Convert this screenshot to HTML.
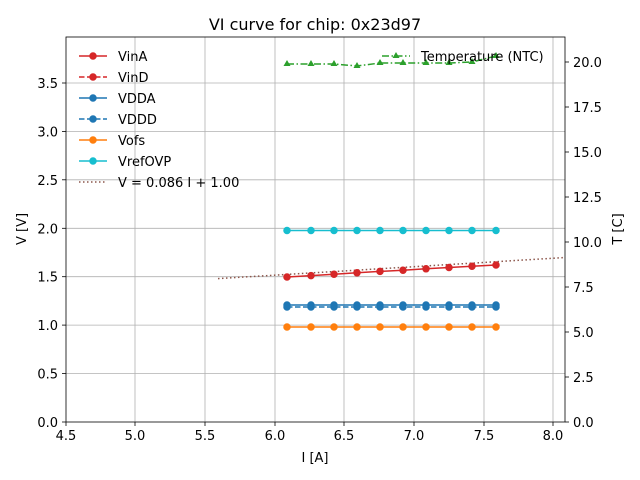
<!DOCTYPE html>
<html><head><meta charset="utf-8"><style>body{margin:0;background:#fff}svg{display:block}text{font-family:"DejaVu Sans","Liberation Sans",sans-serif;font-size:13px;fill:#000}</style></head><body>
<svg width="640" height="480" xmlns="http://www.w3.org/2000/svg">
<rect width="640" height="480" fill="#fff"/>
<g stroke="#b0b0b0" stroke-width="0.8">
<line x1="135" y1="37" x2="135" y2="422"/><line x1="205" y1="37" x2="205" y2="422"/><line x1="275" y1="37" x2="275" y2="422"/><line x1="344" y1="37" x2="344" y2="422"/><line x1="414" y1="37" x2="414" y2="422"/><line x1="484" y1="37" x2="484" y2="422"/><line x1="553" y1="37" x2="553" y2="422"/>
<line x1="66" y1="373.6" x2="565" y2="373.6"/><line x1="66" y1="325.1" x2="565" y2="325.1"/><line x1="66" y1="276.7" x2="565" y2="276.7"/><line x1="66" y1="228.3" x2="565" y2="228.3"/><line x1="66" y1="179.8" x2="565" y2="179.8"/><line x1="66" y1="131.4" x2="565" y2="131.4"/><line x1="66" y1="83" x2="565" y2="83"/>
</g>
<polyline points="218,278.6 565,257.5" fill="none" stroke="#8c564b" stroke-width="1.5" stroke-dasharray="1.5,2.5"/>
<g stroke="#17becf" fill="#17becf" stroke-width="1.5"><polyline fill="none" points="287,230.5 496,230.5"/>
<circle cx="287" cy="230.5" r="3"/><circle cx="311" cy="230.5" r="3"/><circle cx="334" cy="230.5" r="3"/><circle cx="357" cy="230.5" r="3"/><circle cx="380" cy="230.5" r="3"/><circle cx="403" cy="230.5" r="3"/><circle cx="426" cy="230.5" r="3"/><circle cx="449" cy="230.5" r="3"/><circle cx="472" cy="230.5" r="3"/><circle cx="496" cy="230.5" r="3"/></g>
<g stroke="#d62728" fill="#d62728" stroke-width="1.5"><polyline fill="none" points="287,277 311,275.6 334,274.2 357,272.8 380,271.4 403,270.2 426,268.8 449,267.5 472,266.2 496,265"/>
<circle cx="287" cy="277" r="3"/><circle cx="311" cy="275.6" r="3"/><circle cx="334" cy="274.2" r="3"/><circle cx="357" cy="272.8" r="3"/><circle cx="380" cy="271.4" r="3"/><circle cx="403" cy="270.2" r="3"/><circle cx="426" cy="268.8" r="3"/><circle cx="449" cy="267.5" r="3"/><circle cx="472" cy="266.2" r="3"/><circle cx="496" cy="265" r="3"/></g>
<g stroke="#1f77b4" fill="#1f77b4" stroke-width="1.5"><polyline fill="none" points="287,305 496,305"/><polyline fill="none" stroke-dasharray="5.5,2.5" points="287,307 496,307"/>
<circle cx="287" cy="305" r="3"/><circle cx="311" cy="305" r="3"/><circle cx="334" cy="305" r="3"/><circle cx="357" cy="305" r="3"/><circle cx="380" cy="305" r="3"/><circle cx="403" cy="305" r="3"/><circle cx="426" cy="305" r="3"/><circle cx="449" cy="305" r="3"/><circle cx="472" cy="305" r="3"/><circle cx="496" cy="305" r="3"/>
<circle cx="287" cy="307" r="3"/><circle cx="311" cy="307" r="3"/><circle cx="334" cy="307" r="3"/><circle cx="357" cy="307" r="3"/><circle cx="380" cy="307" r="3"/><circle cx="403" cy="307" r="3"/><circle cx="426" cy="307" r="3"/><circle cx="449" cy="307" r="3"/><circle cx="472" cy="307" r="3"/><circle cx="496" cy="307" r="3"/></g>
<g stroke="#ff7f0e" fill="#ff7f0e" stroke-width="1.5"><polyline fill="none" points="287,327 496,327"/>
<circle cx="287" cy="327" r="3"/><circle cx="311" cy="327" r="3"/><circle cx="334" cy="327" r="3"/><circle cx="357" cy="327" r="3"/><circle cx="380" cy="327" r="3"/><circle cx="403" cy="327" r="3"/><circle cx="426" cy="327" r="3"/><circle cx="449" cy="327" r="3"/><circle cx="472" cy="327" r="3"/><circle cx="496" cy="327" r="3"/></g>
<g stroke="#2ca02c" fill="#2ca02c" stroke-width="1.5"><polyline fill="none" stroke-dasharray="7,2.5,1.5,2.5" points="287,64 311,64 334,64 357,66 380,63 403,63 426,63 449,63 472,62 496,56"/>
<g stroke="none">
<path d="M287,60l3.5,6h-7z"/><path d="M311,60l3.5,6h-7z"/><path d="M334,60l3.5,6h-7z"/><path d="M357,62l3.5,6h-7z"/><path d="M380,59l3.5,6h-7z"/><path d="M403,59l3.5,6h-7z"/><path d="M426,59l3.5,6h-7z"/><path d="M449,59l3.5,6h-7z"/><path d="M472,58l3.5,6h-7z"/><path d="M496,52l3.5,6h-7z"/></g>
<line x1="382" y1="56" x2="410" y2="56" stroke-dasharray="7,2.5,1.5,2.5"/><path d="M396,52l3.5,6h-7z" stroke="none"/></g>
<text x="421" y="61">Temperature (NTC)</text>
<rect x="66" y="37" width="499" height="385" fill="none" stroke="#000" stroke-width="0.8"/>
<g stroke-width="1.5">
<g stroke="#d62728" fill="#d62728"><line x1="79" y1="56" x2="107" y2="56"/><circle cx="93" cy="56" r="3"/><line x1="79" y1="77" x2="107" y2="77" stroke-dasharray="5.5,2.5"/><circle cx="93" cy="77" r="3"/></g>
<g stroke="#1f77b4" fill="#1f77b4"><line x1="79" y1="98" x2="107" y2="98"/><circle cx="93" cy="98" r="3"/><line x1="79" y1="119" x2="107" y2="119" stroke-dasharray="5.5,2.5"/><circle cx="93" cy="119" r="3"/></g>
<g stroke="#ff7f0e" fill="#ff7f0e"><line x1="79" y1="140" x2="107" y2="140"/><circle cx="93" cy="140" r="3"/></g>
<g stroke="#17becf" fill="#17becf"><line x1="79" y1="161" x2="107" y2="161"/><circle cx="93" cy="161" r="3"/></g>
<line x1="79" y1="182" x2="107" y2="182" stroke="#8c564b" stroke-dasharray="1.5,2.5"/>
</g>
<text x="118" y="61">VinA</text><text x="118" y="82">VinD</text><text x="118" y="103">VDDA</text><text x="118" y="124">VDDD</text><text x="118" y="145">Vofs</text><text x="118" y="166">VrefOVP</text><text x="118" y="187">V = 0.086 I + 1.00</text>
<g stroke="#000" stroke-width="0.8">
<line x1="66" y1="422" x2="66" y2="426"/><line x1="135" y1="422" x2="135" y2="426"/><line x1="205" y1="422" x2="205" y2="426"/><line x1="275" y1="422" x2="275" y2="426"/><line x1="344" y1="422" x2="344" y2="426"/><line x1="414" y1="422" x2="414" y2="426"/><line x1="484" y1="422" x2="484" y2="426"/><line x1="553" y1="422" x2="553" y2="426"/>
<line x1="62" y1="422" x2="66" y2="422"/><line x1="62" y1="373.6" x2="66" y2="373.6"/><line x1="62" y1="325.1" x2="66" y2="325.1"/><line x1="62" y1="276.7" x2="66" y2="276.7"/><line x1="62" y1="228.3" x2="66" y2="228.3"/><line x1="62" y1="179.8" x2="66" y2="179.8"/><line x1="62" y1="131.4" x2="66" y2="131.4"/><line x1="62" y1="83" x2="66" y2="83"/>
<line x1="565" y1="422" x2="569" y2="422"/><line x1="565" y1="377" x2="569" y2="377"/><line x1="565" y1="332" x2="569" y2="332"/><line x1="565" y1="287" x2="569" y2="287"/><line x1="565" y1="242" x2="569" y2="242"/><line x1="565" y1="197" x2="569" y2="197"/><line x1="565" y1="152" x2="569" y2="152"/><line x1="565" y1="107" x2="569" y2="107"/><line x1="565" y1="62" x2="569" y2="62"/>
</g>
<g text-anchor="middle">
<text x="66" y="440">4.5</text><text x="135" y="440">5.0</text><text x="205" y="440">5.5</text><text x="275" y="440">6.0</text><text x="344" y="440">6.5</text><text x="414" y="440">7.0</text><text x="484" y="440">7.5</text><text x="553" y="440">8.0</text>
</g>
<g text-anchor="end">
<text x="58" y="427">0.0</text><text x="58" y="378.6">0.5</text><text x="58" y="330.1">1.0</text><text x="58" y="281.7">1.5</text><text x="58" y="233.3">2.0</text><text x="58" y="184.8">2.5</text><text x="58" y="136.4">3.0</text><text x="58" y="88">3.5</text>
</g>
<g text-anchor="start">
<text x="573" y="427">0.0</text><text x="573" y="382">2.5</text><text x="573" y="337">5.0</text><text x="573" y="292">7.5</text><text x="573" y="247">10.0</text><text x="573" y="202">12.5</text><text x="573" y="157">15.0</text><text x="573" y="112">17.5</text><text x="573" y="67">20.0</text>
</g>
<text x="315" y="462" text-anchor="middle">I [A]</text>
<text transform="translate(26,229) rotate(-90)" text-anchor="middle">V [V]</text>
<text transform="translate(622,229) rotate(-90)" text-anchor="middle">T [C]</text>
<text x="315" y="30" text-anchor="middle" style="font-size:16px">VI curve for chip: 0x23d97</text>
</svg>
</body></html>
